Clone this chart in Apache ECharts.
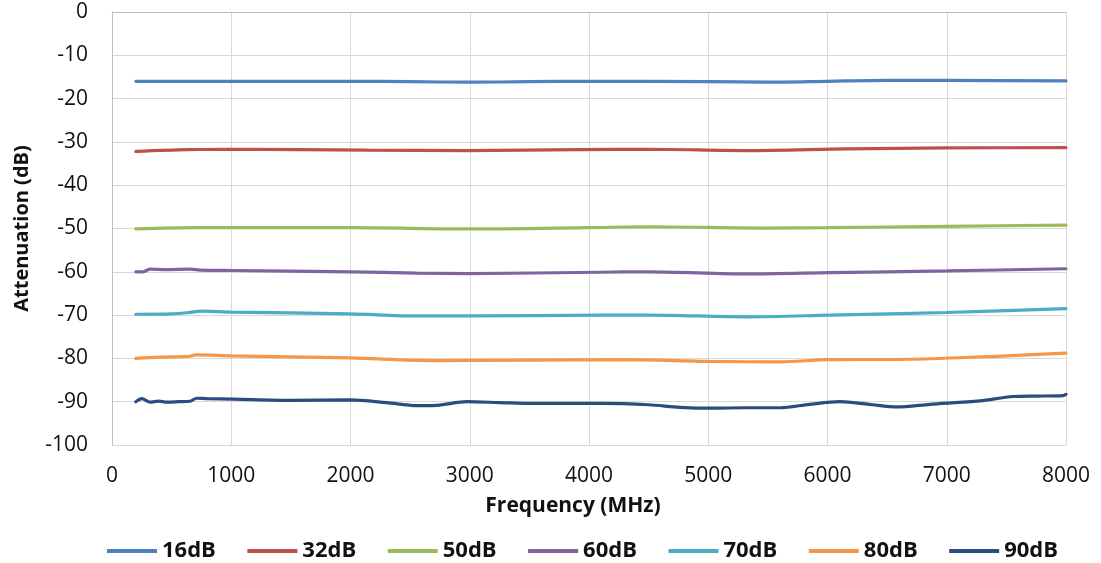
<!DOCTYPE html>
<html>
<head>
<meta charset="utf-8">
<script src="https://cdn.jsdelivr.net/npm/echarts@6/dist/echarts.min.js"></script>
<style>html,body{margin:0;padding:0;background:#fff}#c{width:1101px;height:563px}</style>
</head>
<body>
<div id="c"></div>
<script>
var seriesNames = ['16dB', '32dB', '50dB', '60dB', '70dB', '80dB', '90dB'];

var freq16 = [200, 1000, 2000, 2500, 3000, 3500, 4000, 5000, 5500, 6000, 6500, 7000, 8000];
var vals16 = [-16.0, -16.0, -16.0, -16.1, -16.2, -16.1, -16.0, -16.1, -16.2, -16.0, -15.8, -15.8, -15.9];

var freq32 = [200, 630, 1000, 2140, 2977, 3924, 4500, 5325, 6163, 7000, 8000];
var vals32 = [-32.2, -31.8, -31.7, -31.9, -32.0, -31.8, -31.7, -32.0, -31.6, -31.4, -31.3];

var freq50 = [200, 700, 2000, 3000, 4000, 4500, 5500, 6000, 7000, 8000];
var vals50 = [-50.1, -49.8, -49.8, -50.1, -49.8, -49.6, -49.9, -49.8, -49.5, -49.2];

var freq60 = [200, 260, 318, 450, 654, 738, 1000, 1996, 2557, 2977, 4092, 4500, 5325, 6021, 7000, 8000];
var vals60 = [-60.0, -60.0, -59.4, -59.5, -59.4, -59.6, -59.7, -60.0, -60.3, -60.4, -60.1, -60.0, -60.5, -60.2, -59.8, -59.3];

var freq70 = [200, 500, 650, 738, 1000, 1996, 2557, 3000, 4092, 4500, 5325, 6021, 7000, 8000];
var vals70 = [-69.8, -69.7, -69.4, -69.1, -69.3, -69.7, -70.2, -70.2, -70.0, -70.0, -70.4, -70.0, -69.4, -68.5];

var freq80 = [200, 400, 650, 700, 1000, 2000, 2700, 3500, 4300, 5000, 5600, 6000, 6700, 7500, 8000];
var vals80 = [-80.0, -79.7, -79.5, -79.2, -79.4, -79.9, -80.5, -80.4, -80.3, -80.7, -80.8, -80.3, -80.2, -79.4, -78.8];

var freq90 = [200, 250, 320, 390, 460, 560, 654, 710, 800, 1017, 1500, 1996, 2300, 2557, 2690, 2977, 3250, 3530, 4092, 4500, 4763, 5040, 5300, 5602, 5850, 6105, 6350, 6583, 6860, 7279, 7556, 7750, 7975, 8000];
var vals90 = [-90.0, -89.3, -90.1, -89.85, -90.1, -90.0, -89.9, -89.2, -89.3, -89.4, -89.7, -89.6, -90.2, -90.9, -90.9, -90.0, -90.2, -90.4, -90.4, -90.7, -91.3, -91.5, -91.4, -91.4, -90.6, -90.0, -90.6, -91.2, -90.6, -89.8, -88.8, -88.7, -88.6, -88.3];

var colors = ['#4F81BD', '#C0504D', '#9BBB59', '#8064A2', '#4BACC6', '#F79646', '#2B4C7E'];

var freqs = [freq16, freq32, freq50, freq60, freq70, freq80, freq90];
var vals = [vals16, vals32, vals50, vals60, vals70, vals80, vals90];

function pairs(xs, ys) { return xs.map(function (x, i) { return [x, ys[i]]; }); }

var font = 'Open Sans';
var chart = echarts.init(document.getElementById('c'), null, { renderer: 'canvas' });
chart.setOption({
  animation: false,
  color: colors,
  grid: { left: 112, right: 35, top: 12, bottom: 118, containLabel: false },
  legend: {
    top: 535, left: 102,
    itemWidth: 50, itemHeight: 4, itemGap: 31.5,
    icon: 'rect',
    textStyle: { fontFamily: font, fontWeight: 'bold', fontSize: 22, color: '#111' },
    data: seriesNames
  },
  xAxis: {
    type: 'value', min: 0, max: 8000, interval: 1000,
    name: 'Frequency (MHz)', nameLocation: 'middle', nameGap: 51,
    nameTextStyle: { fontFamily: font, fontWeight: 'bold', fontSize: 21, color: '#111', padding: [0, 32, 0, 0] },
    axisLine: { show: true, lineStyle: { color: '#BFBFBF', width: 1 } },
    axisTick: { show: false },
    axisLabel: { fontFamily: font, fontSize: 21, color: '#111', margin: 21, formatter: function (v) { return String(v); } },
    splitLine: { show: true, lineStyle: { color: '#D9D9D9', width: 1 } }
  },
  yAxis: {
    type: 'value', min: -100, max: 0, interval: 10,
    name: 'Attenuation (dB)', nameLocation: 'middle', nameGap: 80, nameRotate: 90,
    nameTextStyle: { fontFamily: font, fontWeight: 'bold', fontSize: 20, color: '#111' },
    axisLine: { show: true, lineStyle: { color: '#BFBFBF', width: 1 } },
    axisTick: { show: false },
    axisLabel: { fontFamily: font, fontSize: 21, color: '#111', margin: 24 },
    splitLine: { show: true, lineStyle: { color: '#D9D9D9', width: 1 } }
  },
  series: seriesNames.map(function (n, i) {
    return {
      name: n, type: 'line', showSymbol: false, smooth: 0.3,
      lineStyle: { width: 3.2, color: colors[i], cap: 'round' },
      data: pairs(freqs[i], vals[i])
    };
  })
});
</script>
</body>
</html>
